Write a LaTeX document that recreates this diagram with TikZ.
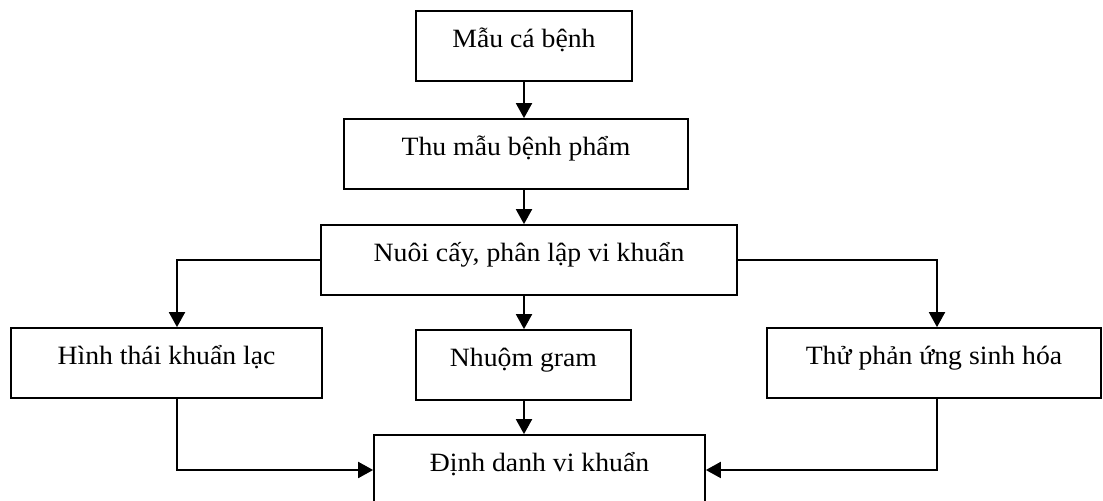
\documentclass[tikz,border=0pt]{standalone}
\usepackage{fontspec}
\setmainfont{Liberation Serif}[FakeStretch=1.05]
\usetikzlibrary{arrows.meta}

\begin{document}
\begin{tikzpicture}[x=0.5pt,y=-0.5pt,
    box/.style={draw,line width=0.85pt,minimum height=35pt,inner sep=0pt,
      text height=10pt,text depth=8pt,font=\fontsize{13.2pt}{15pt}\selectfont},
    arr/.style={line width=0.95pt,-{Triangle[length=7.5pt,width=8pt]}}]
                \useasboundingbox (0,0) rectangle (1103,501);
                \node [box,minimum width=108pt] (mau) at (524,46) {Mẫu cá bệnh};
                \node [box,minimum width=172pt] (thu) at (516,154) {Thu mẫu bệnh phẩm};
                \node [box,minimum width=208pt] (nuoi) at (529,260) {Nuôi cấy, phân lập vi khuẩn};
                \node [box,minimum width=155.5pt] (hinh) at (166.5,363) {Hình thái khuẩn lạc};
                \node [box,minimum width=107.5pt] (nhuom) at (523.5,365) {Nhuộm gram};
                \node [box,minimum width=167pt] (thuph) at (934,363) {Thử phản ứng sinh hóa};
                \node [box,minimum width=165.5pt] (dinh) at (539.5,470) {Định danh vi khuẩn};
                \draw [arr] (mau) -- (mau |- thu.north);
                \draw [arr] (mau |- thu.south) -- (mau |- nuoi.north);
                \draw [arr] (mau |- nuoi.south) -- (mau |- nhuom.north);
                \draw [arr] (nuoi.west) -| ([xshift=5.25pt]hinh.north);
                \draw [arr] (nuoi.east) -| ([xshift=1.5pt]thuph.north);
                \draw [arr] ([xshift=5.25pt]hinh.south) |- (dinh.west);
                \draw [arr] (mau |- nhuom.south) -- (mau |- dinh.north);
                \draw [arr] ([xshift=1.5pt]thuph.south) |- (dinh.east);
            \end{tikzpicture}
\end{document}
